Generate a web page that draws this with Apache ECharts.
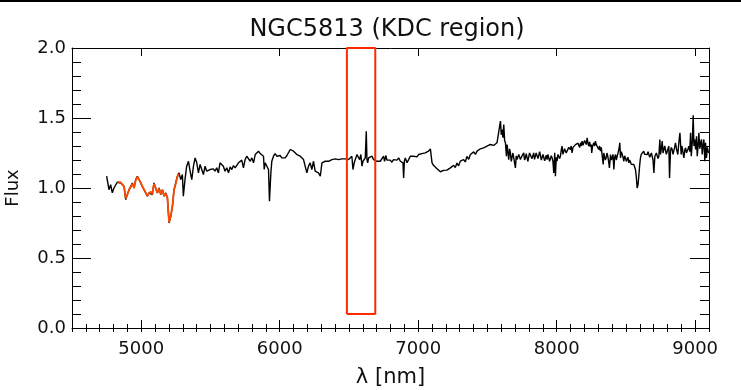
<!DOCTYPE html>
<html>
<head>
<meta charset="utf-8">
<script src="https://cdn.jsdelivr.net/npm/echarts@6/dist/echarts.min.js"></script>
<style>html,body{margin:0;padding:0;background:#fff}#c{width:741px;height:390px}</style>
</head>
<body>
<div id="c"></div>
<script>
// ---- data ----
const titleText = 'NGC5813 (KDC region)';
const xName = 'λ [nm]';
const yName = 'Flux';
const xRange = [4500, 9100];
const yRange = [0, 2];
const xMajorTicks = [5000, 6000, 7000, 8000, 9000];
const yTickStep = 0.5;

const wavelength = [
4750,4767,4779,4791,4803,4815,4827,4839,4851,4864,
4876,4888,4900,4912,4924,4936,4948,4960,4972,4984,
4996,5008,5020,5032,5044,5056,5068,5080,5092,5104,
5116,5129,5141,5153,5165,5177,5189,5201,5213,5225,
5237,5249,5261,5273,5285,5297,5304,5316,5328,5341,
5353,5365,5377,5389,5401,5413,5425,5437,5449,5461,
5473,5485,5497,5509,5521,5533,5545,5557,5569,5581,
5593,5605,5618,5630,5642,5654,5666,5678,5690,5702,
5714,5726,5738,5750,5762,5774,
5787,5799,5811,5823,5835,5847,5859,5871,5883,5888,
5895,5907,5919,5926,5936,5943,5955,5967,5979,5991,
6003,6015,6027,6040,6052,6064,6076,6088,6100,6112,
6124,6136,6148,6160,6172,6184,6196,6208,6220,6232,
6244,6256,6268,6280,6293,6305,6317,6329,6341,6353,
6365,6377,6389,6401,6413,6425,6437,6449,6461,6473,
6485,6497,6509,6521,6529,6538,6545,6558,6570,6577,
6586,6594,6601,6610,6618,6625,6630,6635,6642,6654,
6666,6678,6690,6702,6714,6726,6738,6750,6757,6767,
6774,6786,6798,6810,6822,6834,6847,6859,6871,6883,
6890,6895,6900,6907,6919,6931,6943,6955,6967,6979,
6991,7003,7015,7027,7039,7051,7063,7075,7088,
7100,7112,7124,7136,7148,7160,7172,7184,7196,7208,
7220,7232,7244,7256,7268,7280,7292,7304,7316,7328,
7340,7352,7365,7377,7389,7401,7413,7425,7437,7449,
7461,7473,7485,7497,7509,7521,7533,7545,7557,7569,
7581,7594,7600,7606,7612,7618,7624,7630,7637,7642,
7647,7654,7660,7666,7672,7678,7684,7690,7702,7708,
7714,7726,7738,7750,7762,7768,7774,7780,7786,7792,
7798,7804,7810,7822,7834,7840,7846,7852,7859,7865,
7871,7877,7883,7889,7895,7901,7907,7913,7919,7925,
7931,7937,7943,7949,7955,7961,7967,7973,7979,7986,
7991,7997,8003,8009,8015,8021,8027,8033,8039,8045,
8051,8057,8063,8069,8075,8087,8099,8105,8111,8118,
8124,8136,8148,8154,8160,8166,8172,8178,8184,8190,
8196,8202,8208,8214,8220,8226,8232,8238,8244,8250,
8253,8259,8268,8274,8280,8286,8292,8298,8304,8310,
8316,8322,8328,8336,8340,8345,8351,8357,8363,8369,
8375,8381,8389,8395,8401,8407,8413,8419,8425,8431,
8437,8443,8449,8456,8461,8467,8473,8479,8485,8491,
8497,8503,8509,8515,8521,8527,8533,8539,8545,8551,
8557,8563,8569,8575,8581,8587,8593,8599,8605,8611,
8617,8623,8629,8635,8641,8647,8654,8660,8666,8672,
8678,8684,8690,8696,8702,8709,8714,8720,8726,8732,
8738,8745,8750,8755,8762,8768,8774,8780,8786,8792,
8798,8804,8810,8815,8822,8828,8834,8840,8846,8852,
8858,8866,8875,8882,8890,8899,8904,8909,8914,8919,
8925,8931,8937,8943,8949,8955,8961,8967,8972,8979,
8986,8991,8996,9003,9010,9015,9021,9027,9033,9039,
9046,9051,9057,9063,9070,9075,9082,9088,9094,9100
];
const flux = [
1.084,0.988,1.024,0.965,1.000,0.988,1.041,1.055,1.036,1.048,
1.012,0.917,0.953,0.988,0.977,1.036,1.000,1.060,1.084,1.096,
1.036,1.012,0.988,1.000,0.941,0.965,0.977,0.953,1.036,1.000,
0.965,1.000,0.953,0.988,0.941,0.965,0.929,0.750,0.797,0.869,
0.988,1.036,1.084,1.108,1.060,1.096,0.941,1.060,1.156,1.191,
1.120,1.060,1.156,1.215,1.180,1.108,1.168,1.132,1.096,1.156,
1.120,1.108,1.132,1.120,1.137,1.120,1.144,1.108,1.180,1.191,
1.156,1.120,1.144,1.108,1.151,1.132,1.160,1.144,1.156,1.180,
1.168,1.199,1.144,1.203,1.227,1.215,
1.191,1.215,1.180,1.239,1.251,1.263,1.246,1.256,1.227,1.132,
1.180,1.191,1.132,0.905,1.108,1.191,1.227,1.246,1.227,1.239,
1.232,1.215,1.227,1.215,1.232,1.246,1.275,1.280,1.263,1.270,
1.239,1.246,1.227,1.232,1.203,1.191,1.108,1.156,1.180,1.132,
1.191,1.120,1.132,1.108,1.084,1.180,1.168,1.191,1.180,1.191,
1.180,1.203,1.191,1.208,1.222,1.203,1.215,1.208,1.215,1.208,
1.215,1.203,1.191,1.227,1.132,1.180,1.191,1.239,1.251,1.203,
1.239,1.156,1.191,1.180,1.215,1.406,1.203,1.180,1.215,1.208,
1.227,1.203,1.191,1.191,1.203,1.191,1.191,1.227,1.191,1.232,
1.199,1.191,1.199,1.184,1.203,1.191,1.199,1.215,1.191,1.203,
1.180,1.072,1.191,1.215,1.180,1.203,1.227,1.232,1.227,1.239,
1.222,1.239,1.232,1.246,1.239,1.251,1.239,1.263,1.280,
1.180,1.160,1.150,1.138,1.130,1.116,1.108,1.126,1.122,1.128,
1.132,1.144,1.137,1.162,1.146,1.178,1.158,1.192,1.180,1.203,
1.186,1.225,1.205,1.239,1.227,1.258,1.240,1.263,1.272,1.280,
1.268,1.287,1.276,1.299,1.290,1.311,1.298,1.304,1.318,1.323,
1.335,1.478,1.380,1.418,1.360,1.454,1.340,1.323,1.227,1.310,
1.299,1.203,1.280,1.251,1.190,1.203,1.250,1.215,1.144,1.230,
1.203,1.240,1.203,1.230,1.251,1.200,1.215,1.245,1.251,1.190,
1.203,1.250,1.239,1.210,1.251,1.205,1.203,1.250,1.256,1.210,
1.215,1.260,1.251,1.200,1.203,1.240,1.227,1.195,1.215,1.235,
1.203,1.240,1.227,1.190,1.180,1.230,1.215,1.190,1.108,1.251,
1.084,1.220,1.192,1.240,1.251,1.210,1.227,1.270,1.299,1.240,
1.251,1.280,1.287,1.250,1.263,1.290,1.275,1.300,1.251,1.290,
1.287,1.310,1.299,1.320,1.311,1.290,1.323,1.300,1.335,1.305,
1.311,1.340,1.335,1.310,1.359,1.320,1.299,1.330,1.294,1.310,
1.251,1.299,1.323,1.300,1.335,1.310,1.299,1.320,1.275,1.300,
1.263,1.290,1.287,1.168,1.250,1.239,1.200,1.215,1.250,1.227,
1.190,1.144,1.239,1.200,1.215,1.240,1.132,1.220,1.239,1.200,
1.227,1.250,1.275,1.323,1.215,1.260,1.251,1.220,1.191,1.230,
1.215,1.190,1.203,1.220,1.180,1.200,1.191,1.170,1.156,1.180,
1.168,1.150,1.132,1.080,1.000,1.020,1.084,1.160,1.215,1.240,
1.251,1.230,1.263,1.240,1.251,1.230,1.239,1.260,1.256,1.220,
1.227,1.250,1.239,1.200,1.108,1.227,1.215,1.250,1.239,1.210,
1.227,1.347,1.240,1.275,1.335,1.250,1.275,1.300,1.311,1.240,
1.251,1.280,1.299,1.072,1.263,1.290,1.275,1.240,1.251,1.290,
1.323,1.275,1.239,1.323,1.394,1.239,1.300,1.275,1.240,1.215,
1.270,1.287,1.250,1.239,1.280,1.299,1.260,1.394,1.227,1.323,
1.519,1.300,1.347,1.275,1.370,1.227,1.300,1.394,1.280,1.323,
1.347,1.239,1.300,1.347,1.192,1.323,1.215,1.290,1.260,1.250
];

// orange fitted segment
const fitWavelength = [4827,4839,4851,4864,4876,4888,4900,4912,4924,4936,4948,4960,4972,4984,4996,5008,5020,5032,5044,5056,5068,5080,5092,5104,5116,5129,5141,5153,5165,5177,5189,5201,5213,5225,5237,5249,5261,5273];
const fitFlux = [1.045,1.050,1.040,1.045,1.010,0.925,0.955,0.985,0.975,1.030,1.000,1.055,1.080,1.090,1.040,1.010,0.990,0.995,0.945,0.960,0.975,0.955,1.030,1.000,0.965,0.995,0.955,0.985,0.945,0.960,0.930,0.755,0.800,0.870,0.985,1.030,1.080,1.100];

// red box (KDC window)
const boxX = [6485, 6690, 6690, 6485, 6485];
const boxY = [0.1, 0.1, 2.0, 2.0, 0.1];

// ---- chart ----
const pair = (xs, ys) => xs.map((x, i) => [x, ys[i]]);
const FONT = 'DejaVu Sans';
const INK = '#000';
const chart = echarts.init(document.getElementById('c'), null, {renderer: 'canvas'});

const xBase = {type: 'value', min: xRange[0], max: xRange[1], splitLine: {show: false}, axisLabel: {show: false}, axisLine: {show: false}};
const yBase = {type: 'value', min: yRange[0], max: yRange[1], splitLine: {show: false}, axisLabel: {show: false}, axisLine: {show: false}};
const gridRect = {left: 72, right: 32, top: 48, bottom: 62, containLabel: false, outerBoundsMode: 'none'};

chart.setOption({
  animation: false,
  backgroundColor: '#fff',
  grid: [Object.assign({}, gridRect), Object.assign({}, gridRect)],
  graphic: [
    {type: 'rect', left: 0, top: 0, shape: {width: 741, height: 2}, style: {fill: '#000'}},
    {type: 'text', x: 387, y: 30, style: {text: titleText, font: '24px "' + FONT + '"', fill: '#111', textAlign: 'center', textVerticalAlign: 'middle'}}
  ],
  xAxis: [
    Object.assign({}, xBase, {
      gridIndex: 0, position: 'bottom',
      axisLine: {show: true, onZero: false, lineStyle: {color: INK, width: 1}},
      axisTick: {show: true, inside: true, length: 8, customValues: xMajorTicks, lineStyle: {color: INK}},
      axisLabel: {show: true, customValues: xMajorTicks, color: '#111', fontFamily: FONT, fontSize: 18, margin: 12, formatter: v => String(v)},
      name: xName, nameLocation: 'middle', nameGap: 39,
      nameTextStyle: {fontFamily: FONT, fontSize: 21, color: '#111'}
    }),
    Object.assign({}, xBase, {
      gridIndex: 0, position: 'top',
      axisLine: {show: true, onZero: false, lineStyle: {color: INK, width: 1}},
      axisTick: {show: true, inside: true, length: 8, customValues: xMajorTicks, lineStyle: {color: INK}}
    }),
    Object.assign({}, xBase, {
      gridIndex: 1, position: 'bottom', interval: 100,
      axisTick: {show: true, inside: true, length: 4, lineStyle: {color: INK}}
    }),
    Object.assign({}, xBase, {
      gridIndex: 1, position: 'top', interval: 100,
      axisTick: {show: true, inside: true, length: 4, lineStyle: {color: INK}}
    })
  ],
  yAxis: [
    Object.assign({}, yBase, {
      gridIndex: 0, position: 'left', interval: yTickStep,
      axisLine: {show: true, onZero: false, lineStyle: {color: INK, width: 1}},
      axisTick: {show: true, inside: true, length: 19, lineStyle: {color: INK}},
      axisLabel: {show: true, color: '#111', fontFamily: FONT, fontSize: 18, margin: 6, formatter: v => v.toFixed(1)},
      name: yName, nameLocation: 'middle', nameGap: 50, nameRotate: 90,
      nameTextStyle: {fontFamily: FONT, fontSize: 18, color: '#111'}
    }),
    Object.assign({}, yBase, {
      gridIndex: 0, position: 'right', interval: yTickStep,
      axisLine: {show: true, onZero: false, lineStyle: {color: INK, width: 1}},
      axisTick: {show: true, inside: true, length: 19, lineStyle: {color: INK}}
    }),
    Object.assign({}, yBase, {gridIndex: 1, position: 'left', interval: 0.1,
      axisTick: {show: true, inside: true, length: 9, lineStyle: {color: INK}}}),
    Object.assign({}, yBase, {gridIndex: 1, position: 'right', interval: 0.1,
      axisTick: {show: true, inside: true, length: 9, lineStyle: {color: INK}}})
  ],
  series: [
    {type: 'line', xAxisIndex: 0, yAxisIndex: 0, data: pair(wavelength, flux), showSymbol: false, symbol: 'none',
     lineStyle: {color: '#000', width: 1.4}, z: 3},
    {type: 'line', xAxisIndex: 0, yAxisIndex: 0, data: pair(fitWavelength, fitFlux), showSymbol: false, symbol: 'none',
     lineStyle: {color: '#ff4a00', width: 1.8}, z: 4},
    {type: 'line', xAxisIndex: 0, yAxisIndex: 0, data: pair(boxX, boxY), showSymbol: false, symbol: 'none', clip: false,
     lineStyle: {color: '#ff2a00', width: 2}, z: 5}
  ]
});
</script>
</body>
</html>
